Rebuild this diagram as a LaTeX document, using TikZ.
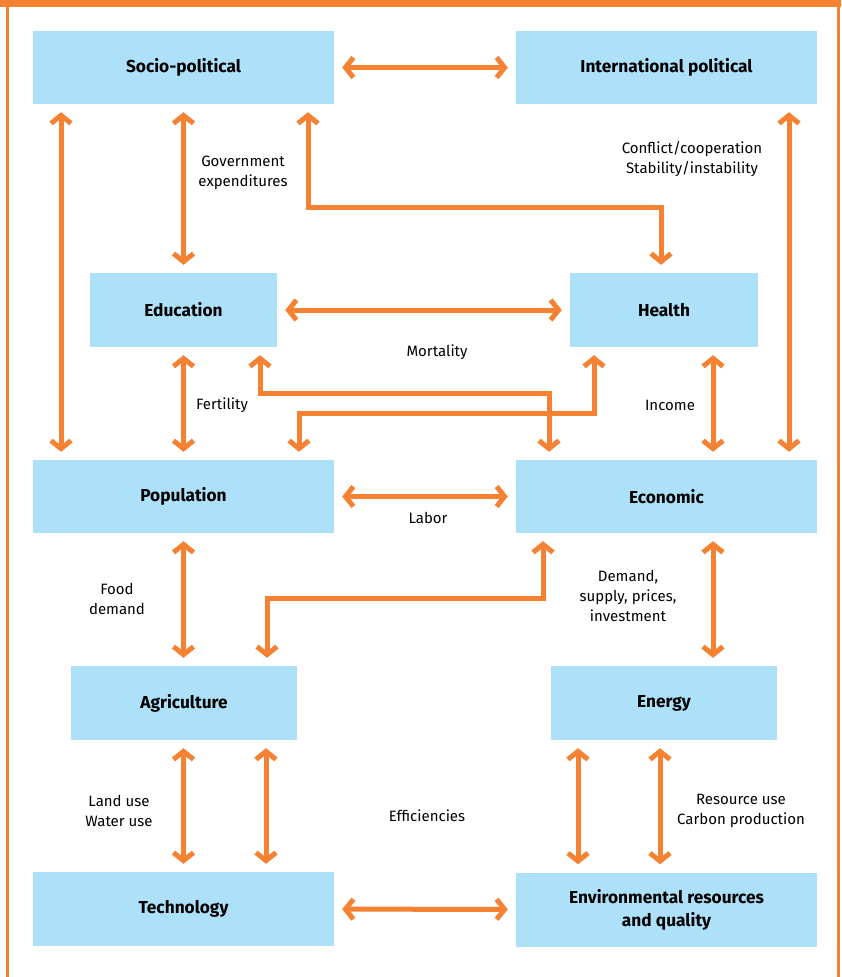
\documentclass[tikz,border=0pt]{standalone}
\usepackage{fontspec}
\setmainfont{Fira Sans}
\usetikzlibrary{arrows.meta}
\definecolor{orn}{HTML}{F58232}
\definecolor{boxblue}{HTML}{ADE1FA}
\begin{document}
\begin{tikzpicture}[x=1pt,y=-1pt,
  box/.style={fill=boxblue, draw=none, inner sep=0pt, font=\fontsize{17.3}{23}\selectfont\bfseries, align=center, text=black},
  wbox/.style={box, minimum width=301pt},
  nbox/.style={box, minimum width=187pt},
  mbox/.style={box, minimum width=226pt},
  lbl/.style={font=\fontsize{15}{20}\selectfont, align=center, text=black, inner sep=0pt},
  arr/.style={draw=orn, line width=5pt, line join=miter,
    {Straight Barb[length=8pt,width=20pt]}-{Straight Barb[length=8pt,width=20pt]},
    shorten <=8pt, shorten >=8pt}]
\useasboundingbox (0,0) rectangle (841,977);
\fill[white] (0,0) rectangle (841,977);
% frame
\fill[orn] (0,0) rectangle (841,7);
\fill[orn] (6,0) rectangle (9,977);
\fill[orn] (836.5,0) rectangle (839.5,977);
% boxes
\node[wbox, minimum height=73pt] (soc) at (183.5,67.5) {Socio-political};
\node[wbox, minimum height=73pt] (intl) at (666.5,67.5) {International political};
\node[nbox, minimum height=74pt] (edu) at (183.5,310) {Education};
\node[nbox, minimum height=74pt, minimum width=188pt] (hea) at (664,310) {Health};
\node[wbox, minimum height=73pt] (pop) at (183.5,496.5) {Population};
\node[wbox, minimum height=73pt] (eco) at (666.5,496.5) {Economic};
\node[mbox, minimum height=74pt] (agr) at (184,703) {Agriculture};
\node[mbox, minimum height=74pt] (ene) at (664,703) {Energy};
\node[wbox, minimum height=74pt] (tec) at (183.5,909) {Technology};
\node[wbox, minimum height=74pt] (env) at (666.5,909.5) {Environmental resources\\and quality};
% corner coordinates
\coordinate (k1) at (308,207);
\coordinate (k2) at (260,393);
\coordinate (k3) at (594,413);
\coordinate (k4) at (543,598);
% connectors
\draw[arr] (soc) -- (intl);
\draw[arr] (soc) -- (edu);
\draw[arr] ([xshift=124.5pt]soc.south) -- (k1) -| ([xshift=-3pt]hea.north);
\draw[arr] ([xshift=-122.5pt]soc.south) -- ([xshift=-122.5pt]pop.north);
\draw[arr] ([xshift=122.5pt]intl.south) -- ([xshift=122.5pt]eco.north);
\draw[arr] (edu) -- (hea);
\draw[arr] (edu) -- (pop);
\draw[arr] ([xshift=76.5pt]edu.south) -- (k2) -| ([xshift=-117.5pt]eco.north);
\draw[arr] ([xshift=-70pt]hea.south) -- (k3) -| ([xshift=115.5pt]pop.north);
\draw[arr] ([xshift=49pt]hea.south) -- ([xshift=46.5pt]eco.north);
\draw[arr] (pop) -- (eco);
\draw[arr] (pop) -- ([xshift=-0.5pt]agr.north);
\draw[arr] ([xshift=-123.5pt]eco.south) -- (k4) -| ([xshift=83pt]agr.north);
\draw[arr] ([xshift=46.5pt]eco.south) -- ([xshift=49pt]ene.north);
\draw[arr] ([xshift=-0.5pt]agr.south) -- (tec);
\draw[arr] ([xshift=82pt]agr.south) -- ([xshift=82.5pt]tec.north);
\draw[arr] ([xshift=-86pt]ene.south) -- ([xshift=-88.5pt]env.north);
\draw[arr] ([xshift=-4pt]ene.south) -- ([xshift=-6.5pt]env.north);
\draw[arr] (tec) -- (env);
% labels
\node[lbl] (l1) at (243,173) {Government\\expenditures};
\node[lbl] (l2) at (692,159) {Conflict/cooperation\\Stability/instability};
\node[lbl] (l3) at (437,352) {Mortality};
\node[lbl] (l4) at (222,405) {Fertility};
\node[lbl] (l5) at (670,405) {Income};
\node[lbl] (l6) at (428,518) {Labor};
\node[lbl] (l7) at (117,599) {Food\\demand};
\node[lbl] (l8) at (628,596) {Demand,\\supply, prices,\\investment};
\node[lbl] (l9) at (119,811) {Land use\\Water use};
\node[lbl] (l10) at (427,816) {Efficiencies};
\node[lbl] (l11) at (741,811) {Resource use\\Carbon production};
\end{tikzpicture}
\end{document}
